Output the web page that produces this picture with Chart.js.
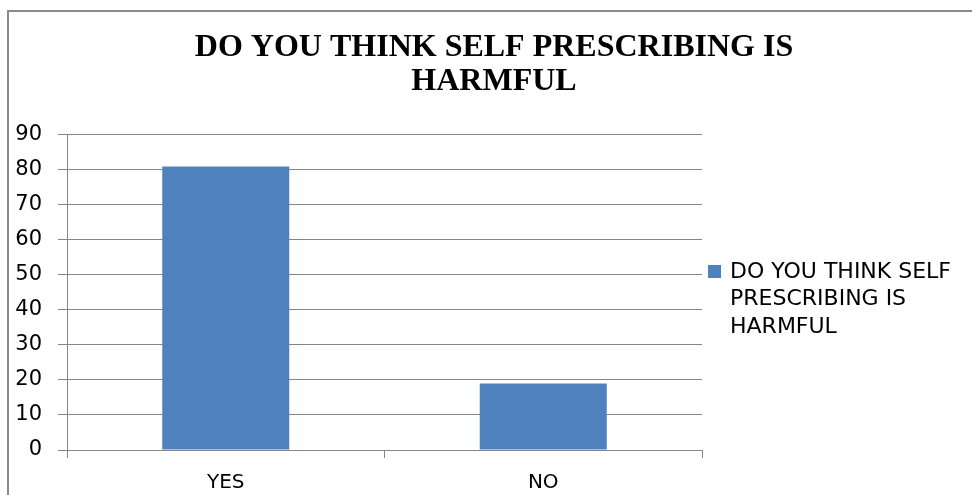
<!DOCTYPE html>
<html>
<head>
<meta charset="utf-8">
<script src="https://cdn.jsdelivr.net/npm/chart.js@4.4.1/dist/chart.umd.min.js"></script>
<style>
  html, body { margin: 0; padding: 0; background: #fff; overflow: hidden; }
  #wrap { position: relative; width: 972px; height: 495px; overflow: hidden; }
  #frame {
    position: absolute; left: 7px; top: 10px; width: 1000px; height: 1000px;
    border-left: 2px solid #8a8a8a; border-top: 2px solid #8a8a8a;
    pointer-events: none;
  }
</style>
</head>
<body>
<div id="wrap">
  <!-- the chart box runs a little past the right edge of the page -->
  <canvas id="myChart" width="988" height="495"></canvas>
  <div id="frame"></div>
</div>
<script>
// survey answers
const categories = ['YES', 'NO'];
const harmfulCounts = [81, 19];
const seriesLabel = 'DO YOU THINK SELF PRESCRIBING IS HARMFUL';
const titleLines = ['DO YOU THINK SELF PRESCRIBING IS', 'HARMFUL'];
const yMin = 0, yMax = 90, yStep = 10;

const barBlue = '#4f81bd';
const gridGray = '#868686';
const labelFont = 'DejaVu Sans';
const visibleWidth = 972;

// legend on the right, with the long label wrapped over several lines
const sideLegend = {
  id: 'sideLegend',
  afterDraw(chart) {
    const ctx = chart.ctx;
    const area = chart.chartArea;
    const ds = chart.data.datasets[0];
    ctx.save();
    ctx.font = '22px ' + labelFont;
    const x = area.right + 6;
    const textX = x + 22;
    const maxW = visibleWidth - textX - 6;
    let lines = [], line = '';
    ds.label.split(' ').forEach(function(w) {
      let t = line ? line + ' ' + w : w;
      if (line && ctx.measureText(t).width > maxW) { lines.push(line); line = w; }
      else line = t;
    });
    lines.push(line);
    const lh = 27.5;
    const top = (area.top + area.bottom) / 2 - lines.length * lh / 2 + 7;
    ctx.fillStyle = ds.backgroundColor;
    ctx.fillRect(x, top + lh / 2 - 7, 13, 13);
    ctx.fillStyle = '#000';
    ctx.textBaseline = 'middle';
    ctx.textAlign = 'left';
    lines.forEach(function(l, i) { ctx.fillText(l, textX, top + lh / 2 + i * lh); });
    ctx.restore();
  }
};

let ctx = document.getElementById('myChart').getContext('2d');
myChart = new Chart(ctx, {
  type: 'bar',
  data: {
    labels: categories,
    datasets: [{
      label: seriesLabel,
      data: harmfulCounts,
      backgroundColor: barBlue,
      barPercentage: 0.4,
      categoryPercentage: 1.0
    }]
  },
  plugins: [sideLegend],
  options: {
    responsive: false,
    animation: false,
    layout: { padding: 0 },
    plugins: {
      legend: { display: false },
      tooltip: { enabled: false },
      title: {
        display: true,
        text: titleLines,
        color: '#000',
        font: { family: 'Liberation Serif', size: 32, weight: 'bold', lineHeight: 1.06 },
        padding: { top: 30.5, bottom: 36.6 }
      }
    },
    scales: {
      x: {
        afterFit(scale) { scale.height = 45; },
        grid: { offset: true, drawOnChartArea: false, drawTicks: true, tickLength: 8, color: gridGray, lineWidth: 1 },
        border: { color: gridGray, width: 1 },
        ticks: { color: '#000', padding: 13, font: { family: labelFont, size: 20 } }
      },
      y: {
        min: yMin,
        max: yMax,
        afterFit(scale) { scale.width = 67; },
        grid: { color: gridGray, lineWidth: 1, tickLength: 9 },
        border: { color: gridGray, width: 1 },
        ticks: { stepSize: yStep, color: '#000', padding: 16, font: { family: labelFont, size: 21 } }
      },
      // empty axis that keeps room for the legend on the right
      side: {
        type: 'linear',
        position: 'right',
        afterFit(scale) { scale.width = 286; },
        grid: { display: false },
        border: { display: false },
        ticks: { display: false }
      }
    }
  }
});
</script>
</body>
</html>
